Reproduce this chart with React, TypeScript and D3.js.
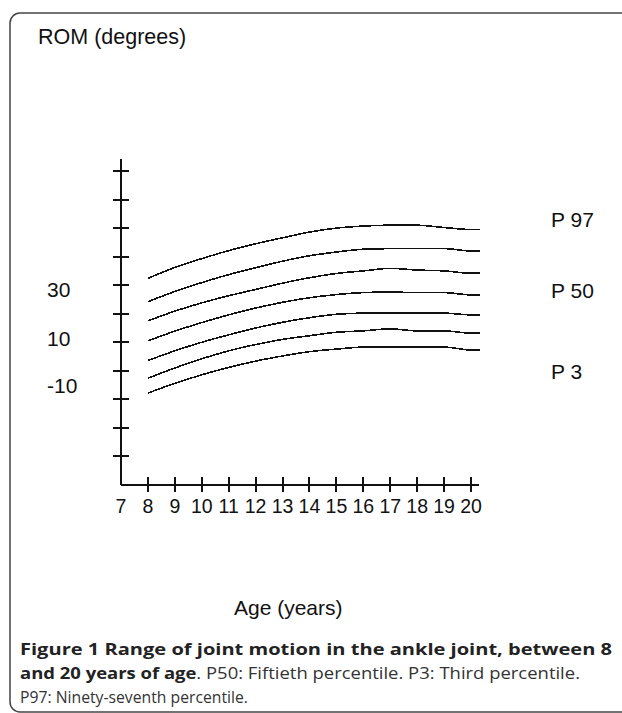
import React from 'react'
import * as d3 from 'd3'

// ages (years) where each curve was read, last point = where the curves stop
const ages = [8, 9, 10, 11, 12, 13, 14, 15, 16, 17, 18, 19, 20, 20.35]

// ROM (degrees), seven percentile curves, top to bottom
const p97 = [32.4, 36.2, 39.3, 42.1, 44.5, 46.6, 48.6, 50.0, 50.7, 51.0, 51.0, 50.2, 49.5, 49.5]
const p90 = [24.2, 27.8, 30.9, 33.7, 36.1, 38.4, 40.3, 41.6, 42.6, 42.8, 42.8, 42.8, 42.0, 42.0]
const p75 = [17.5, 20.9, 23.8, 26.3, 28.5, 30.7, 32.6, 34.1, 35.0, 35.9, 35.3, 35.0, 34.2, 34.2]
const p50 = [10.5, 13.9, 16.9, 19.6, 22.0, 24.0, 25.6, 26.7, 27.4, 27.6, 27.4, 27.4, 26.6, 26.6]
const p25 = [3.6, 7.0, 10.0, 12.6, 15.0, 17.0, 18.6, 19.8, 20.2, 20.2, 20.2, 20.2, 19.6, 19.6]
const p10 = [-2.6, 1.0, 4.2, 7.0, 9.2, 11.0, 12.3, 13.5, 14.0, 14.7, 14.0, 14.0, 13.2, 13.2]
const p3 = [-7.8, -4.4, -1.4, 1.2, 3.4, 5.2, 6.7, 7.6, 8.3, 8.3, 8.3, 8.3, 7.3, 7.3]
const curves = [p97, p90, p75, p50, p25, p10, p3]

const xTicks = [7, 8, 9, 10, 11, 12, 13, 14, 15, 16, 17, 18, 19, 20]
const yTicks = [-30, -20, -10, 0, 10, 20, 30, 40, 50, 60, 70]
const yLabels = ['30', '10', '-10']
const curveLabels = ['P 97', 'P 50', 'P 3']

const App = () => {
  const width = 622
  const height = 713

  const x = d3.scaleLinear().domain([7, 20]).range([121, 471])
  const y = d3.scaleLinear().domain([-40, 70]).range([485, 171])

  const line = d3.line<number>()
    .x((d, i) => x(ages[i]))
    .y(d => y(d))
    .curve(d3.curveMonotoneX)

  const axisFont = '"Liberation Sans", Arial, sans-serif'
  const capFont = '"Open Sans", sans-serif'

  // hand placed labels, as in the original figure
  const yLabelPos = [297, 346, 393]
  const curveLabelPos = [227, 298, 379]

  return (
    <svg width={width} height={height} style={{ position: 'absolute', left: 0, top: 0 }}>
      <rect x={0} y={0} width={width} height={height} fill='#fff' />
      <rect x={10} y={13} width={700} height={699} rx={10} ry={10}
        fill='none' stroke='#444' strokeWidth={1.5} />

      <text x={38} y={44} fontFamily={axisFont} fontSize={21.5} fill='#111'>ROM (degrees)</text>

      {/* axes */}
      <g stroke='#111' strokeWidth={2} shapeRendering='crispEdges'>
        <line x1={x(7)} x2={x(7)} y1={y(74.2)} y2={y(-40)} />
        <line x1={x(7)} x2={x(20.3)} y1={y(-40)} y2={y(-40)} />
        {yTicks.map(t => (
          <line key={'y' + t} x1={x(7) - 8} x2={x(7) + 8} y1={y(t)} y2={y(t)} />
        ))}
        {xTicks.slice(1).map(t => (
          <line key={'x' + t} x1={x(t)} x2={x(t)} y1={y(-40) - 8} y2={y(-40) + 7} />
        ))}
      </g>
      {xTicks.map(t => (
        <text key={'xl' + t} x={x(t)} y={513} textAnchor='middle'
          fontFamily={axisFont} fontSize={19.5} fill='#111'>{t}</text>
      ))}
      {yLabels.map((l, i) => (
        <text key={l} x={47} y={yLabelPos[i]} fontFamily={axisFont} fontSize={21} fill='#111'>{l}</text>
      ))}

      {/* percentile curves */}
      <g fill='none' stroke='#111' strokeWidth={1.6} shapeRendering='crispEdges'>
        {curves.map((c, i) => <path key={i} d={line(c) || ''} />)}
      </g>
      {curveLabels.map((l, i) => (
        <text key={l} x={551} y={curveLabelPos[i]} fontFamily={axisFont} fontSize={21} fill='#111'>{l}</text>
      ))}

      <text x={234} y={615} fontFamily={axisFont} fontSize={21} fill='#111'>Age (years)</text>

      {/* caption */}
      <text x={20} y={655} fontFamily={capFont} fontSize={16.5} fontWeight='bold' fill='#222'
        textLength={592} lengthAdjust='spacingAndGlyphs'>
        Figure 1 Range of joint motion in the ankle joint, between 8
      </text>
      <text x={20} y={679} fontFamily={capFont} fontSize={16.5} fill='#333'
        textLength={560} lengthAdjust='spacingAndGlyphs'>
        <tspan fontWeight='bold' fill='#222'>and 20 years of age</tspan>. P50: Fiftieth percentile. P3: Third percentile.
      </text>
      <text x={20} y={703} fontFamily={capFont} fontSize={16.5} fill='#333'
        textLength={228} lengthAdjust='spacingAndGlyphs'>
        P97: Ninety-seventh percentile.
      </text>
    </svg>
  )
}

export default App
